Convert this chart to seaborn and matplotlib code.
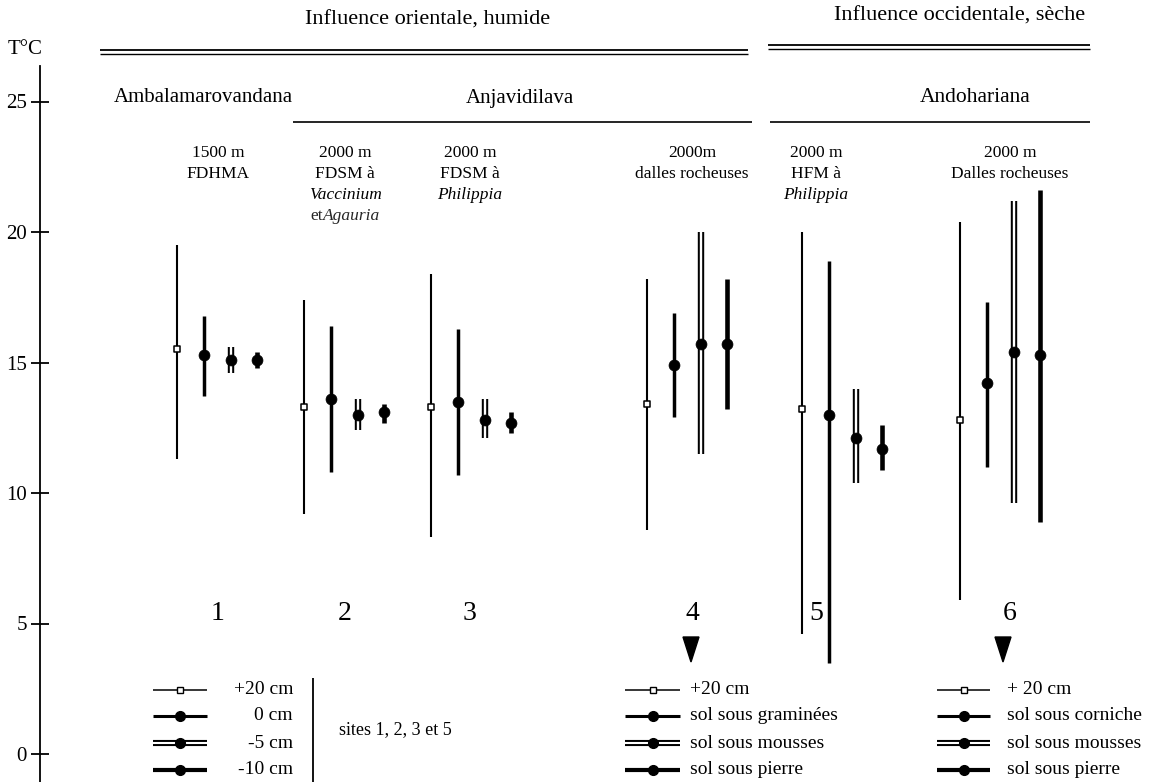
import matplotlib
matplotlib.use("Agg")
import matplotlib.pyplot as plt
from matplotlib.lines import Line2D
from matplotlib.patches import Polygon
import pandas as pd
import seaborn as sns

# ---------------- data ----------------
site_ids = ["1", "2", "3", "4", "5", "6"]
levels = ["+20 cm", "0 cm", "-5 cm", "-10 cm"]

p20_max = [19.5, 17.4, 18.4, 18.2, 20.0, 20.4]
p20_mean = [15.5, 13.3, 13.3, 13.4, 13.2, 12.8]
p20_min = [11.3, 9.2, 8.3, 8.6, 4.6, 5.9]

s0_max = [16.8, 16.4, 16.3, 16.9, 18.9, 17.3]
s0_mean = [15.3, 13.6, 13.5, 14.9, 13.0, 14.2]
s0_min = [13.7, 10.8, 10.7, 12.9, 3.5, 11.0]

m5_max = [15.6, 13.6, 13.6, 20.0, 14.0, 21.2]
m5_mean = [15.1, 13.0, 12.8, 15.7, 12.1, 15.4]
m5_min = [14.6, 12.4, 12.1, 11.5, 10.4, 9.6]

m10_max = [15.4, 13.4, 13.1, 18.2, 12.6, 21.6]
m10_mean = [15.1, 13.1, 12.7, 15.7, 11.7, 15.3]
m10_min = [14.8, 12.7, 12.3, 13.2, 10.9, 8.9]

y_ticks = [0, 5, 10, 15, 20, 25]
y_tick_labels = ["0", "5", "10", "15", "20", "25"]

header_east = "Influence orientale, humide"
header_west = "Influence occidentale, sèche"
place_names = ["Ambalamarovandana", "Anjavidilava", "Andohariana"]
site_desc = [
    [("1500 m", "normal"), ("FDHMA", "normal")],
    [("2000 m", "normal"), ("FDSM à", "normal"), ("Vaccinium", "italic"), ("et|Agauria", "mixed")],
    [("2000 m", "normal"), ("FDSM à", "normal"), ("Philippia", "italic")],
    [("2000m", "normal"), ("dalles rocheuses", "normal")],
    [("2000 m", "normal"), ("HFM à", "normal"), ("Philippia", "italic")],
    [("2000 m", "normal"), ("Dalles rocheuses", "normal")],
]
legend_left = ["+20 cm", "0 cm", "-5 cm", "-10 cm"]
legend_left_note = "sites 1, 2, 3 et 5"
legend_mid = ["+20 cm", "sol sous graminées", "sol sous mousses", "sol sous pierre"]
legend_right = ["+ 20 cm", "sol sous corniche", "sol sous mousses", "sol sous pierre"]

# ---------------- layout (pixels) ----------------
W, H = 1157, 782
AX_LEFT, AX_TOP = 40, 66
Y0, K = 754.0, 26.1               # y_px = Y0 - K * T
site_x = [217, 344, 471, 687, 842, 1000]
bar_off = [-40, -13.5, 13.5, 40]
label_x = [218, 345, 470, 692, 816, 1010]

sns.set_theme(style="white")
plt.rcParams['font.family'] = ['Liberation Serif', 'DejaVu Serif']
plt.rcParams['lines.solid_capstyle'] = 'butt'

fig = plt.figure(figsize=(W / 100, H / 100), dpi=100)
ax = fig.add_axes([AX_LEFT / W, 0, 1 - AX_LEFT / W, 1 - AX_TOP / H])
ax.set_xlim(AX_LEFT, W)
ax.set_ylim((Y0 - H) / K, (Y0 - AX_TOP) / K)

# long-form table
stats = {"+20 cm": (p20_min, p20_mean, p20_max),
         "0 cm": (s0_min, s0_mean, s0_max),
         "-5 cm": (m5_min, m5_mean, m5_max),
         "-10 cm": (m10_min, m10_mean, m10_max)}
rows = []
for i, s in enumerate(site_ids):
    for j, lv in enumerate(levels):
        mn, me, mx = (a[i] for a in stats[lv])
        x = site_x[i] + bar_off[j]
        for st, v in (("min", mn), ("mean", me), ("max", mx)):
            rows.append(dict(site=s, level=lv, bar=f"{s}|{lv}", x=x, stat=st, T=v))
df = pd.DataFrame(rows)

line_w = {"+20 cm": 1.5, "0 cm": 2.5, "-5 cm": 4.6, "-10 cm": 3.3}
for lv in levels:
    sub = df[df.level == lv]
    rng = sub[sub.stat != "mean"]
    sns.lineplot(data=rng, x="x", y="T", units="bar", estimator=None, sort=False,
                 color="black", linewidth=line_w[lv], ax=ax, legend=False, zorder=2)
    if lv == "-5 cm":
        sns.lineplot(data=rng, x="x", y="T", units="bar", estimator=None, sort=False,
                     color="white", linewidth=1.7, ax=ax, legend=False, zorder=3)
    pts = sub[sub.stat == "mean"]
    if lv == "+20 cm":
        sns.scatterplot(data=pts, x="x", y="T", marker="s", s=24, color="white",
                        edgecolor="black", linewidth=1.1, ax=ax, legend=False, zorder=5)
    else:
        sns.scatterplot(data=pts, x="x", y="T", marker="o", s=62, color="black",
                        edgecolor="black", linewidth=0.5, ax=ax, legend=False, zorder=5)

# axis styling
for sp in ("top", "right", "bottom"):
    ax.spines[sp].set_visible(False)
ax.spines["left"].set_color("black")
ax.spines["left"].set_linewidth(1.3)
ax.set_xticks([])
ax.set_yticks(y_ticks)
ax.set_yticklabels(y_tick_labels)
ax.tick_params(axis="y", direction="inout", length=13, width=1.3, labelsize=15,
               pad=3, colors="black", left=True)
ax.set_xlabel("")
ax.set_ylabel("")
ax.grid(False)


def fp(x, y):
    return x / W, 1 - y / H


def ftext(x, y, s, size, ha="center", style="normal"):
    fig.text(*fp(x, y), s, ha=ha, va="center", fontsize=size, style=style, color="black")


def hline(x1, x2, y, lw=1.2, color="black"):
    fig.add_artist(Line2D([x1 / W, x2 / W], [1 - y / H] * 2, transform=fig.transFigure,
                          color=color, lw=lw, solid_capstyle="butt"))


# headers
ftext(8, 50, "T°C", 15, ha="left")
ftext(428, 20, header_east, 16)
hline(100, 748, 50, lw=1.3)
hline(100, 748, 54, lw=1.0)
ftext(960, 16, header_west, 16)
hline(768, 1090, 45, lw=1.3)
hline(768, 1090, 49, lw=1.0)
ftext(203, 98, place_names[0], 15)
ftext(520, 98, place_names[1], 15)
hline(293, 752, 122, lw=1.2)
ftext(975, 98, place_names[2], 15.5)
hline(770, 1090, 122, lw=1.2)

row_y = [153, 174, 195, 216]
for i, lines in enumerate(site_desc):
    for r, (txt, st) in enumerate(lines):
        if st == "mixed":
            a, b = txt.split("|")
            xs = label_x[i] - 22
            fig.text(*fp(xs, row_y[r]), a, ha="right", va="center", fontsize=12.5)
            fig.text(*fp(xs, row_y[r]), b, ha="left", va="center", fontsize=12.5, style="italic")
        else:
            ftext(label_x[i], row_y[r], txt, 12.5, style=st)

# site numbers
for i, s in enumerate(site_ids):
    ftext(label_x[i], 613, s, 20)

# arrows
for arr_x in (691, 1003):
    fig.add_artist(Polygon([fp(arr_x - 8, 637), fp(arr_x + 8, 637), fp(arr_x, 662)],
                           closed=True, transform=fig.transFigure, color="black"))

# legends
leg_y = [690, 716, 743, 770]


def legend_symbol(x1, x2, y, kind):
    xm = (x1 + x2) / 2
    if kind == 0:
        hline(x1, x2, y, lw=1.1)
        fig.add_artist(Line2D([xm / W], [1 - y / H], transform=fig.transFigure, marker="s",
                              markersize=5, markerfacecolor="white", markeredgecolor="black",
                              markeredgewidth=1.0, lw=0))
    else:
        if kind == 1:
            hline(x1, x2, y, lw=2.2)
        elif kind == 2:
            hline(x1, x2, y, lw=4.4)
            hline(x1, x2, y, lw=1.5, color="white")
        else:
            hline(x1, x2, y, lw=3.0)
        fig.add_artist(Line2D([xm / W], [1 - y / H], transform=fig.transFigure, marker="o",
                              markersize=7, markerfacecolor="black", markeredgecolor="black",
                              lw=0))


for r in range(4):
    legend_symbol(153, 207, leg_y[r], r)
    ftext(293, leg_y[r], legend_left[r], 14, ha="right")
    legend_symbol(625, 680, leg_y[r], r)
    ftext(690, leg_y[r], legend_mid[r], 14, ha="left")
    legend_symbol(937, 990, leg_y[r], r)
    ftext(1007, leg_y[r], legend_right[r], 14, ha="left")

fig.add_artist(Line2D([313 / W] * 2, [1 - 678 / H, 0], transform=fig.transFigure,
                      color="black", lw=1.3))
ftext(339, 730, legend_left_note, 13, ha="left")

fig.savefig("out.png", dpi=100, facecolor="white")
